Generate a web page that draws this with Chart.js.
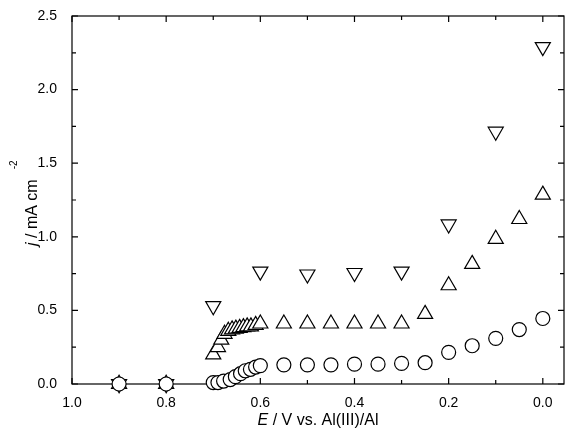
<!DOCTYPE html>
<html>
<head>
<meta charset="utf-8">
<script src="https://cdn.jsdelivr.net/npm/chart.js@4"></script>
<style>
  body { margin: 0; background: #fff; }
  #wrap { width: 567px; height: 437px; }
</style>
</head>
<body>
<div id="wrap"><canvas id="myChart" width="567" height="437"></canvas></div>
<script>
// data
const circleE = [0.9, 0.8, 0.70, 0.69, 0.678, 0.664, 0.653, 0.642, 0.632, 0.621, 0.61, 0.60, 0.55, 0.50, 0.45, 0.40, 0.35, 0.30, 0.25, 0.20, 0.15, 0.10, 0.05, 0.0];
const circleJ = [0, 0, 0.01, 0.01, 0.02, 0.03, 0.05, 0.07, 0.09, 0.10, 0.115, 0.125, 0.13, 0.13, 0.13, 0.135, 0.135, 0.14, 0.145, 0.215, 0.26, 0.31, 0.37, 0.445];

const upE = [0.9, 0.8, 0.70, 0.69, 0.683, 0.676, 0.668, 0.66, 0.652, 0.644, 0.636, 0.628, 0.62, 0.61, 0.60, 0.55, 0.50, 0.45, 0.40, 0.35, 0.30, 0.25, 0.20, 0.15, 0.10, 0.05, 0.0];
const upJ = [0, 0, 0.20, 0.25, 0.30, 0.34, 0.36, 0.37, 0.375, 0.38, 0.385, 0.39, 0.39, 0.40, 0.41, 0.41, 0.41, 0.41, 0.41, 0.41, 0.41, 0.475, 0.67, 0.815, 0.985, 1.12, 1.285];

const downE = [0.9, 0.8, 0.70, 0.60, 0.50, 0.40, 0.30, 0.20, 0.10, 0.0];
const downJ = [0, 0, 0.53, 0.765, 0.745, 0.755, 0.765, 1.085, 1.715, 2.29];

const xTicks = [1.0, 0.8, 0.6, 0.4, 0.2, 0.0];
const yTicks = [0, 0.5, 1.0, 1.5, 2.0, 2.5];

function pts(xs, ys) { return xs.map((x, i) => ({ x: x, y: ys[i] })); }

const FONT = '"Liberation Sans", Arial, sans-serif';

// frame, inward ticks, x labels and axis titles
const decor = {
  id: 'decor',
  beforeDatasetsDraw(chart) {
    const { ctx, chartArea: a, scales: { x, y } } = chart;
    ctx.save();
    ctx.strokeStyle = '#000';
    ctx.lineWidth = 1.2;
    ctx.strokeRect(a.left, a.top, a.right - a.left, a.bottom - a.top);
    ctx.beginPath();
    for (let v = 0; v <= 10; v++) {
      const px = x.getPixelForValue(v / 10);
      const len = v % 2 === 0 ? 6 : 4;
      ctx.moveTo(px, a.bottom); ctx.lineTo(px, a.bottom - len);
      ctx.moveTo(px, a.top); ctx.lineTo(px, a.top + len);
    }
    for (let v = 0; v <= 10; v++) {
      const py = y.getPixelForValue(v * 0.25);
      const len = v % 2 === 0 ? 6 : 4;
      ctx.moveTo(a.left, py); ctx.lineTo(a.left + len, py);
      ctx.moveTo(a.right, py); ctx.lineTo(a.right - len, py);
    }
    ctx.stroke();
    // x tick labels
    ctx.fillStyle = '#000';
    ctx.font = '14px ' + FONT;
    ctx.textAlign = 'center';
    ctx.textBaseline = 'middle';
    xTicks.forEach(v => ctx.fillText(v.toFixed(1), x.getPixelForValue(v), a.bottom + 19));
    ctx.restore();
  },
  afterDraw(chart) {
    const { ctx, chartArea: a } = chart;
    ctx.save();
    ctx.fillStyle = '#000';
    ctx.textBaseline = 'alphabetic';
    // x title
    const it = 'italic 16px ' + FONT, rm = '16px ' + FONT;
    ctx.font = it; const wE = ctx.measureText('E').width;
    ctx.font = rm; const rest = ' / V vs. Al(III)/Al'; const wR = ctx.measureText(rest).width;
    let sx = (a.left + a.right) / 2 - (wE + wR) / 2;
    ctx.font = it; ctx.fillText('E', sx, 425);
    ctx.font = rm; ctx.fillText(rest, sx + wE, 425);
    // y title
    ctx.translate(37, 246);
    ctx.rotate(-Math.PI / 2);
    ctx.font = it; ctx.fillText('j', 0, 0);
    const wj = ctx.measureText('j').width;
    ctx.font = rm; ctx.fillText(' / mA cm', wj, 0);
    const wm = ctx.measureText(' / mA cm').width;
    ctx.font = '10px ' + FONT; ctx.fillText('-2', wj + wm + 10, -20);
    ctx.restore();
  }
};

const ctx = document.getElementById('myChart');
new Chart(ctx, {
  type: 'scatter',
  data: {
    datasets: [
      { data: pts(circleE, circleJ), pointStyle: 'circle', pointRadius: 7 },
      { data: pts(upE, upJ), pointStyle: 'triangle', pointRadius: 8.7 },
      { data: pts(downE, downJ), pointStyle: 'triangle', rotation: 180, pointRadius: 8.7 }
    ].map(d => Object.assign(d, {
      showLine: false, clip: false,
      borderColor: '#000', backgroundColor: '#fff', borderWidth: 1.2,
      pointHoverRadius: d.pointRadius
    }))
  },
  options: {
    responsive: false,
    animation: false,
    layout: { autoPadding: false, padding: { top: 16, right: 3, left: 0, bottom: 0 } },
    plugins: { legend: { display: false }, tooltip: { enabled: false } },
    scales: {
      x: {
        type: 'linear', reverse: true, min: -0.045, max: 1.0,
        afterBuildTicks: s => { s.ticks = xTicks.map(v => ({ value: v })); },
        afterFit: s => { s.height = 53; },
        grid: { display: false }, border: { display: false },
        ticks: { display: false }
      },
      y: {
        min: 0, max: 2.5,
        afterBuildTicks: s => { s.ticks = yTicks.map(v => ({ value: v })); },
        afterFit: s => { s.width = 72; },
        grid: { display: false }, border: { display: false },
        ticks: { color: '#000', font: { family: FONT, size: 14 }, padding: 7,
                 callback: v => Number(v).toFixed(1) }
      }
    }
  },
  plugins: [decor]
});
</script>
</body>
</html>
